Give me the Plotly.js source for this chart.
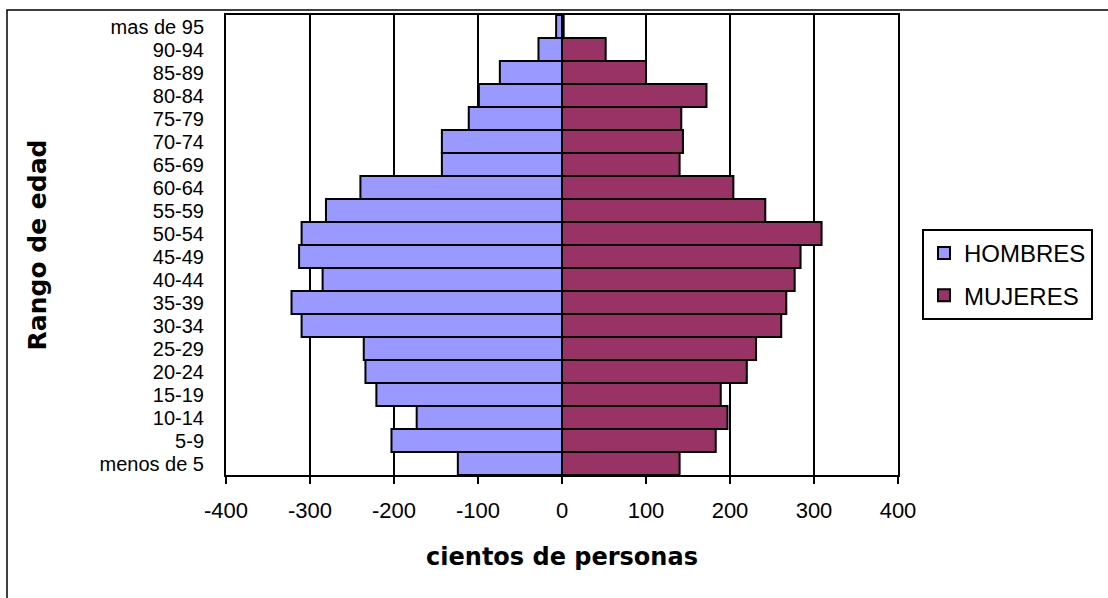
<!DOCTYPE html>
<html>
<head>
<meta charset="utf-8">
<script src="https://cdn.plot.ly/plotly-3.0.1.min.js"></script>
<style>
html,body{margin:0;padding:0;background:#fff;}
#chart{width:1108px;height:598px;}
</style>
</head>
<body>
<div id="chart"></div>
<script>
// Age groups, bottom (youngest) to top (oldest)
var categories = ["menos de 5","5-9","10-14","15-19","20-24","25-29","30-34","35-39","40-44","45-49","50-54","55-59","60-64","65-69","70-74","75-79","80-84","85-89","90-94","mas de 95"];
// Hundreds of people (men shown as negative values)
var hombres = [-124,-203,-173,-221,-234,-236,-310,-322,-285,-313,-310,-281,-240,-143,-143,-111,-99,-74,-28,-7];
var mujeres = [140,183,197,189,220,231,261,267,277,284,309,242,204,140,144,142,172,100,52,2];
var xTicks = [-400,-300,-200,-100,0,100,200,300,400];

var font = "Liberation Sans, Arial, sans-serif";
var boldFont = "DejaVu Sans, Verdana, sans-serif";

var traces = [
  {type:"bar", orientation:"h", name:"HOMBRES", y:categories, x:hombres, legendgroup:"a",
   marker:{color:"#9999FF", line:{color:"#000000", width:2}}, hoverinfo:"x+y"},
  {type:"bar", orientation:"h", name:"MUJERES", y:categories, x:mujeres, legendgroup:"b",
   marker:{color:"#993366", line:{color:"#000000", width:2}}, hoverinfo:"x+y"}
];

var layout = {
  width:1108, height:598,
  margin:{l:226, r:210, t:15, b:123},
  paper_bgcolor:"#ffffff", plot_bgcolor:"#ffffff",
  barmode:"relative", bargap:0,
  showlegend:true,
  legend:{x:1.0357, y:0.535, xanchor:"left", yanchor:"top",
    bordercolor:"#000000", borderwidth:2, bgcolor:"#ffffff",
    font:{family:font, size:24, color:"#000000"},
    traceorder:"grouped", tracegroupgap:8},
  xaxis:{range:[-400,400], tickmode:"array", tickvals:xTicks, ticktext:xTicks.map(String),
    showgrid:true, gridcolor:"#000000", gridwidth:2,
    zeroline:true, zerolinecolor:"#000000", zerolinewidth:2,
    showline:true, linecolor:"#000000", linewidth:2, mirror:true,
    ticks:"outside", ticklen:7, tickwidth:2, tickcolor:"#000000",
    ticklabelstandoff:8,
    tickfont:{family:font, size:22, color:"#000000"},
    title:{text:"cientos de personas", standoff:26,
      font:{family:boldFont, size:24, color:"#000000", weight:"bold"}},
    fixedrange:true},
  yaxis:{type:"category", categoryorder:"array", categoryarray:categories,
    tickmode:"array", tickvals:categories, ticktext:categories,
    showgrid:false, zeroline:false,
    showline:true, linecolor:"#000000", linewidth:2, mirror:true,
    ticks:"", ticklabelstandoff:16,
    tickfont:{family:font, size:20, color:"#000000"},
    title:{text:"Rango de edad", standoff:46,
      font:{family:boldFont, size:25, color:"#000000", weight:"bold"}},
    fixedrange:true},
  shapes:[
    {type:"rect", xref:"paper", yref:"paper", x0:-0.3259, x1:1.6, y0:-0.6, y1:1.0109,
     line:{color:"#000000", width:1.5}, fillcolor:"rgba(0,0,0,0)", layer:"below"}
  ]
};

Plotly.newPlot("chart", traces, layout, {displayModeBar:false, staticPlot:true});
</script>
</body>
</html>
